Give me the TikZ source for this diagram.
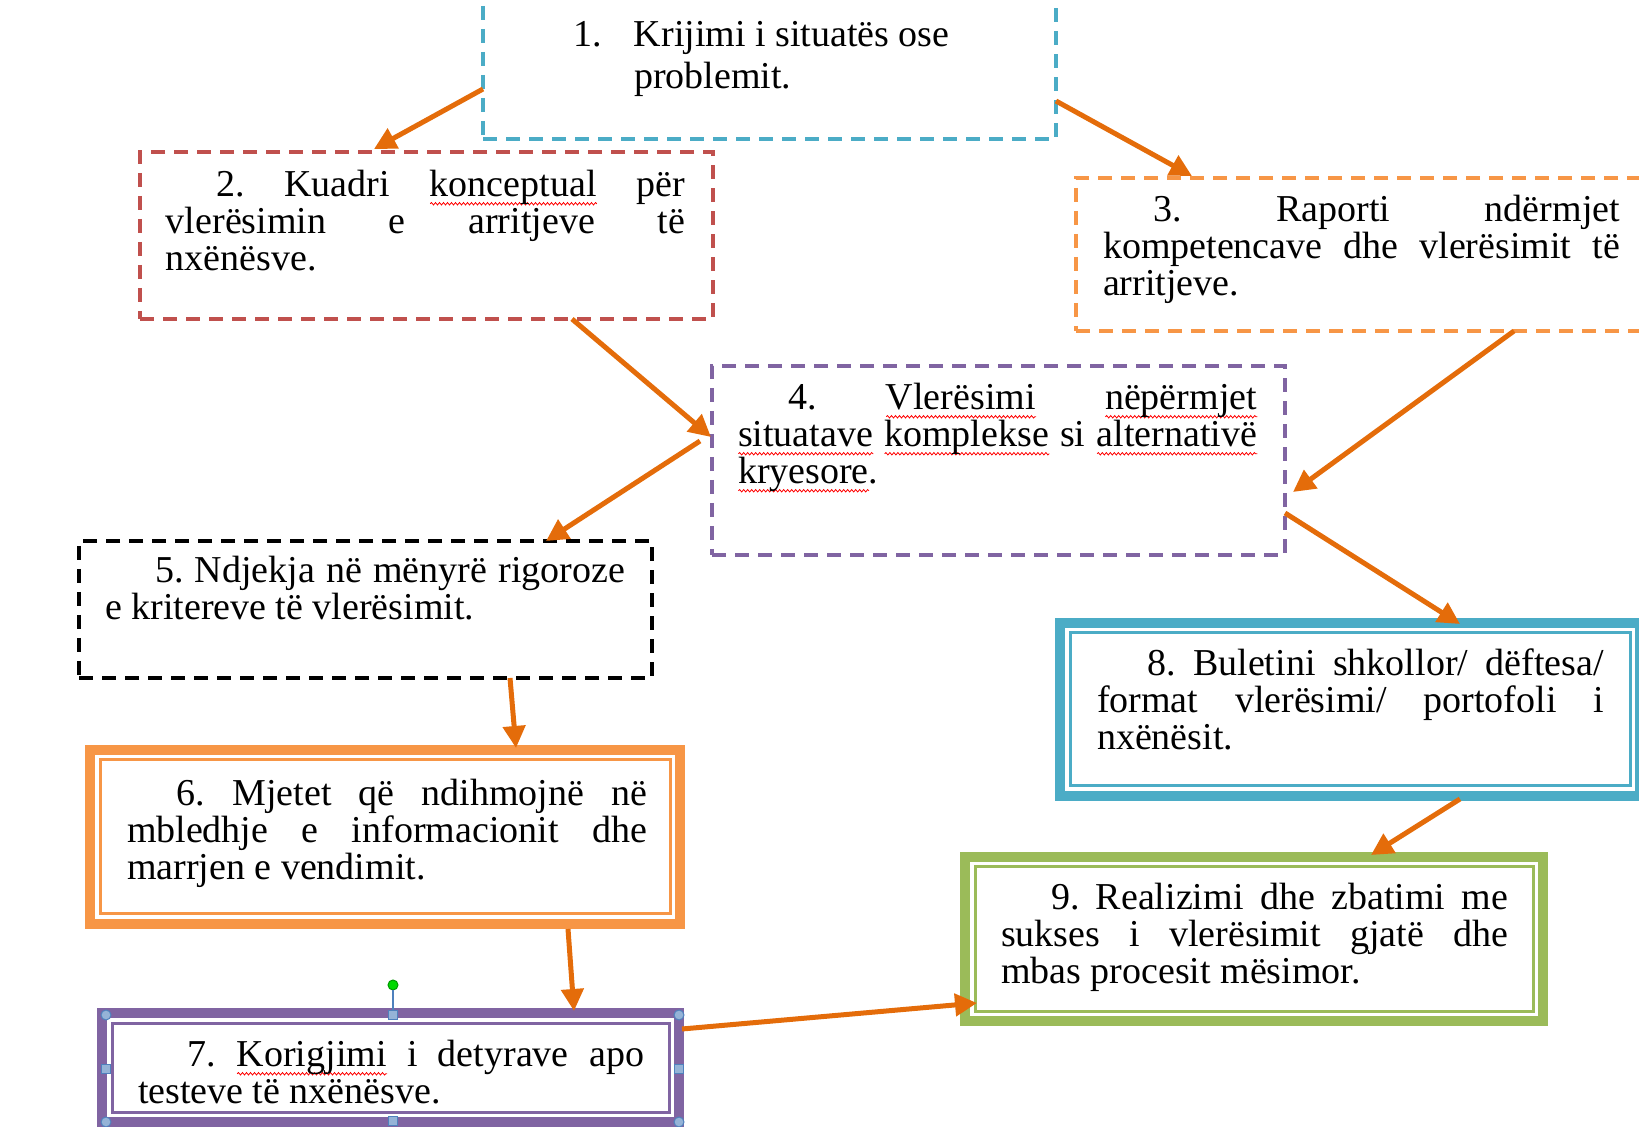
\documentclass[tikz,border=0pt]{standalone}
\usepackage{fontspec}
\setmainfont{Liberation Serif}
\usetikzlibrary{arrows.meta,decorations.pathmorphing}

\definecolor{cyanbox}{HTML}{4BACC6}
\definecolor{redbox}{HTML}{C0504D}
\definecolor{orangebox}{HTML}{F79646}
\definecolor{purplebox}{HTML}{8064A2}
\definecolor{greenbox}{HTML}{9BBB59}
\definecolor{arrowc}{HTML}{E46C0A}
\definecolor{handlec}{HTML}{4F81BD}

\def\foo{\vphantom{ld}}
\newcommand{\spell}[1]{\setbox0\hbox{#1}\rlap{\raisebox{-4.5pt}{\tikz\draw[red, line width=0.4pt, decorate, decoration={snake, amplitude=0.6pt, segment length=2pt}] (0pt,0pt) -- (\wd0,0pt);}}\box0\relax}
\newcommand{\boxtext}[6]{\begin{minipage}[t][#2][t]{#1}\vspace*{#5}\leftskip=#3\rightskip=#4\parindent=25pt\frenchspacing\leavevmode\foo#6\end{minipage}}
\tolerance=10000 \hbadness=10000 \hyphenpenalty=10000

\begin{document}
\begin{tikzpicture}[x=0.5pt,y=-0.5pt,
  every node/.style={font=\fontsize{19pt}{18.5pt}\selectfont, inner sep=0pt, outer sep=0pt, anchor=north west},
  dashbox/.style={draw, line width=1.8pt, dash pattern=on 7pt off 4.5pt},
  framebox/.style={draw, line width=5pt},
  innerline/.style={line width=1.5pt},
  arr/.style={draw=arrowc, line width=2.5pt, -{Triangle[length=11pt,width=11pt]}},
  hcirc/.style={circle, anchor=center, draw=handlec, fill=handlec!60!white, line width=0.5pt, minimum size=5pt},
  hsq/.style={rectangle, anchor=center, draw=handlec, fill=handlec!60!white, line width=0.5pt, minimum size=4.5pt}]
  \useasboundingbox (0,0) rectangle (1639,1127);

  \node[dashbox, draw=cyanbox] (b1) at (483,-10) {\boxtext{286.5pt}{74.5pt}{20pt}{0pt}{15pt}{\fontsize{19pt}{21pt}\selectfont\makebox[30.5pt][l]{1.}Krijimi i situatës ose\\\hspace*{55.5pt}problemit.}};
  \node[dashbox, draw=redbox] (b2) at (140,152) {\boxtext{286.5pt}{83.5pt}{13pt}{14pt}{9pt}{2. Kuadri \spell{konceptual} për\linebreak vlerësimin e arritjeve të\linebreak nxënësve.}};
  \node[dashbox, draw=orangebox] (b3) at (1076,178) {\boxtext{287pt}{76.5pt}{13.5pt}{15pt}{8.5pt}{3. Raporti ndërmjet\linebreak kompetencave dhe vlerësimit të\linebreak arritjeve.}};
  \node[dashbox, draw=purplebox] (b4) at (712,366) {\boxtext{286.5pt}{94.5pt}{13pt}{14pt}{8.5pt}{4. \spell{Vlerësimi} \spell{nëpërmjet}\linebreak \spell{situatave} \spell{komplekse} si \spell{alternativë}\linebreak \spell{kryesore}.}};
  \node[dashbox, draw=black] (b5) at (79,541) {\boxtext{286.5pt}{68.5pt}{13pt}{13.5pt}{7.5pt}{5. Ndjekja në mënyrë rigoroze\linebreak e kritereve të vlerësimit.}};
  \node[framebox, draw=orangebox] (b6) at (90,750) {\boxtext{295pt}{87pt}{18.5pt}{16.5pt}{14.5pt}{6. Mjetet që ndihmojnë në\linebreak mbledhje e informacionit dhe\linebreak marrjen e vendimit.}};
  \node[framebox, draw=purplebox] (b7) at (102,1013) {\boxtext{288.5pt}{54.5pt}{18pt}{17.5pt}{13.5pt}{7. \spell{Korigjimi} i detyrave apo\linebreak testeve të nxënësve.}};
  \node[framebox, draw=cyanbox] (b8) at (1060,623) {\boxtext{290pt}{86.5pt}{18.5pt}{18pt}{13pt}{8. Buletini shkollor/ dëftesa/\linebreak format vlerësimi/ portofoli i\linebreak nxënësit.}};
  \node[framebox, draw=greenbox] (b9) at (965,857) {\boxtext{289pt}{82pt}{18pt}{17.5pt}{13pt}{9. Realizimi dhe zbatimi me\linebreak sukses i vlerësimit gjatë dhe\linebreak mbas procesit mësimor.}};

  \draw[innerline, orangebox] ([xshift=5pt,yshift=-5pt]b6.north west) rectangle ([xshift=-5pt,yshift=5pt]b6.south east);
  \draw[innerline, purplebox] ([xshift=5pt,yshift=-5pt]b7.north west) rectangle ([xshift=-5pt,yshift=5pt]b7.south east);
  \draw[innerline, cyanbox] ([xshift=5pt,yshift=-5pt]b8.north west) rectangle ([xshift=-5pt,yshift=5pt]b8.south east);
  \draw[innerline, greenbox] ([xshift=5pt,yshift=-5pt]b9.north west) rectangle ([xshift=-5pt,yshift=5pt]b9.south east);

  \draw[arr] ([shift={(0,99)}]b1.north west) -- ([shift={(234,-3)}]b2.north west);
  \draw[arr] ([shift={(0,111)}]b1.north east) -- ([shift={(116,-2)}]b3.north west);
  \draw[arr] ([shift={(432,0)}]b2.south west) -- ([shift={(-1,71)}]b4.north west);
  \draw[arr] ([shift={(438,0)}]b3.south west) -- ([shift={(8,126)}]b4.north east);
  \draw[arr] ([shift={(-12,75)}]b4.north west) -- ([shift={(467,0)}]b5.north west);
  \draw[arr] ([shift={(0,147)}]b4.north east) -- ([shift={(400,1)}]b8.north west);
  \draw[arr] ([shift={(431,0)}]b5.south west) -- ([shift={(426,-2)}]b6.north west);
  \draw[arr] ([shift={(400,3)}]b8.south west) -- ([shift={(406,-2)}]b9.north west);
  \draw[arr] ([shift={(478,5)}]b6.south west) -- ([shift={(472,-2)}]b7.north west);
  \draw[arr] ([shift={(3,16)}]b7.north east) -- ([shift={(12,-18)}]b9.south west);

  \node[hcirc] (h1) at (106,1015) {};
  \node[hcirc] (h2) at (679,1015) {};
  \node[hcirc] (h3) at (106,1122) {};
  \node[hcirc] (h4) at (679,1122) {};
  \node[hsq] (h5) at (393,1015) {};
  \node[hsq] (h6) at (393,1121) {};
  \node[hsq] (h7) at (106,1069) {};
  \node[hsq] (h8) at (679,1069) {};
  \node[hcirc, draw=green!60!black, fill=green!85!black] (hg) at (393,985) {};
  \draw[handlec, line width=0.6pt] (hg) -- (h5);
\end{tikzpicture}
\end{document}
